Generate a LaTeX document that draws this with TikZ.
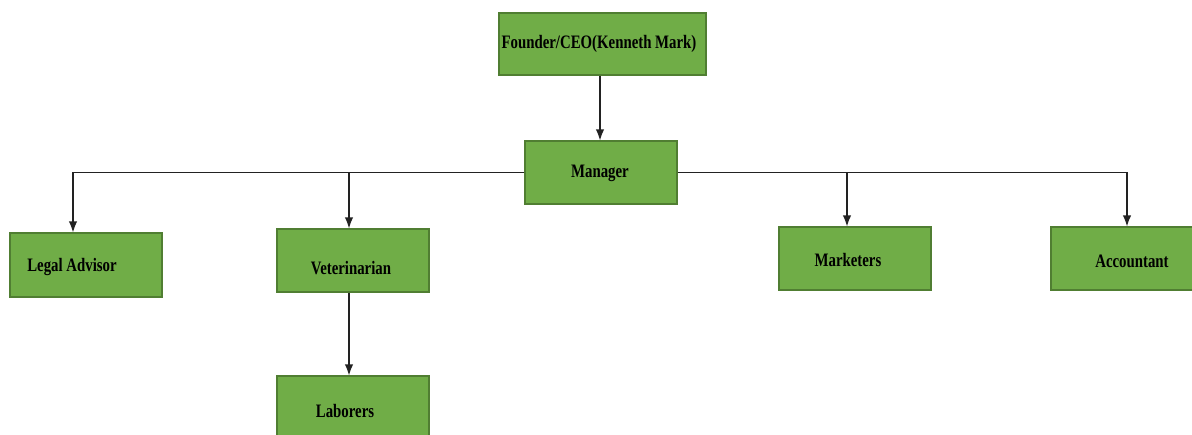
\documentclass[tikz,border=0pt]{standalone}
\usepackage{fontspec}
\setmainfont{Liberation Serif}[FakeStretch=0.78]
\usetikzlibrary{arrows.meta,calc}
\definecolor{boxfill}{HTML}{70AD47}
\definecolor{boxline}{HTML}{507E32}
\definecolor{conn}{HTML}{222222}
\tikzset{
  orgbox/.style={draw=boxline, fill=boxfill, line width=1.2pt, minimum width=152pt, minimum height=63pt, inner sep=0pt},
  boxtext/.style={font=\fontsize{19}{21}\selectfont\bfseries, text=black, inner sep=0pt},
  conline/.style={draw=conn, line width=1.2pt},
  conarrow/.style={conline, -{Latex[length=11pt,width=8.5pt]}}
}
\begin{document}
\begin{tikzpicture}[x=1pt,y=-1pt]
\useasboundingbox (0,0) rectangle (1192,434);
\clip (0,0) rectangle (1192,434);
% boxes
\node[orgbox, minimum width=207pt, minimum height=62pt] (ceo) at (602.5,44) {};
\node[orgbox] (mgr) at (601,172.5) {};
\node[orgbox, minimum height=64pt] (legal) at (86,265) {};
\node[orgbox] (vet) at (353,260.5) {};
\node[orgbox, minimum height=62pt] (lab) at (353,407) {};
\node[orgbox] (mkt) at (855,258.5) {};
\node[orgbox] (acc) at (1127,258.5) {};
% texts
\node[boxtext] (ceot) at (599,44) {Founder/CEO(Kenneth Mark)};
\node[boxtext] (mgrt) at (600,173) {Manager};
\node[boxtext] (legalt) at (72,267) {Legal Advisor};
\node[boxtext] (vett) at (351,268) {Veterinarian};
\node[boxtext] (labt) at (345,411) {Laborers};
\node[boxtext] (mktt) at (848,260) {Marketers};
\node[boxtext] (acct) at (1132,261) {Accountant};
% connectors
\draw[conarrow] ([xshift=-2.5pt]ceo.south) -- ([xshift=-1pt]mgr.north);
\draw[conarrow] (mgr.west) -| ([xshift=-13pt]legal.north);
\draw[conarrow] (mgr.west) -| ([xshift=-4pt]vet.north);
\draw[conarrow] (mgr.east) -| ([xshift=-8pt]mkt.north);
\draw[conarrow] (mgr.east) -| (acc.north);
\draw[conarrow] ([xshift=-4pt]vet.south) -- ([xshift=-4pt]lab.north);
\end{tikzpicture}
\end{document}
